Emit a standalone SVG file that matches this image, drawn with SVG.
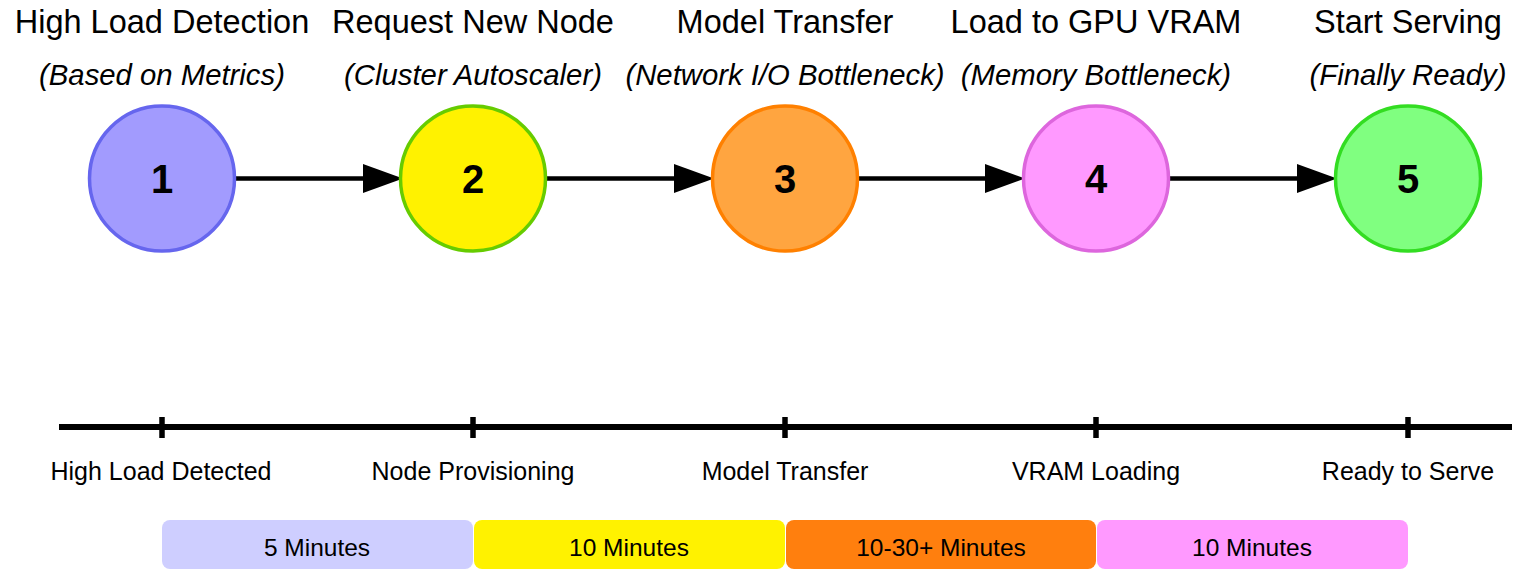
<svg xmlns="http://www.w3.org/2000/svg" width="1514" height="569" viewBox="0 0 1514 569">
<style>
text{font-family:"Liberation Sans",Arial,sans-serif;fill:#000;text-anchor:middle}
.title{font-size:32.5px}
.sub{font-size:29.3px;font-style:italic}
.num{font-size:40px;font-weight:bold}
.lbl{font-size:25px}
.bar{font-size:24.5px}
.circ{stroke-width:3.5}
.conn{stroke:#000;stroke-width:4.5;fill:none;marker-end:url(#arr)}
.axis{stroke:#000;stroke-width:6}
.tick{stroke:#000;stroke-width:5.5}
</style>
<defs>
<marker id="arr" markerUnits="userSpaceOnUse" markerWidth="42" markerHeight="30" refX="2" refY="14.5" orient="auto">
<path d="M0,0 L40,14.5 L0,29 Z" fill="#000"/>
</marker>
</defs>
<g id="connectors">
<line class="conn" x1="236" y1="178.5" x2="365" y2="178.5"/>
<line class="conn" x1="547" y1="178.5" x2="676" y2="178.5"/>
<line class="conn" x1="859" y1="178.5" x2="987" y2="178.5"/>
<line class="conn" x1="1170" y1="178.5" x2="1299" y2="178.5"/>
</g>
<g id="node1">
<text class="title" x="162" y="33">High Load Detection</text>
<text class="sub" x="162" y="85">(Based on Metrics)</text>
<circle class="circ" cx="162" cy="178.5" r="72.5" fill="#a29bfe" stroke="#6666ee"/>
<text class="num" x="162" y="193">1</text>
</g>
<g id="node2">
<text class="title" x="473" y="33">Request New Node</text>
<text class="sub" x="473" y="85">(Cluster Autoscaler)</text>
<circle class="circ" cx="473" cy="178.5" r="72.5" fill="#fff200" stroke="#66cc00"/>
<text class="num" x="473" y="193">2</text>
</g>
<g id="node3">
<text class="title" x="785" y="33">Model Transfer</text>
<text class="sub" x="785" y="85">(Network I/O Bottleneck)</text>
<circle class="circ" cx="785" cy="178.5" r="72.5" fill="#ffa540" stroke="#ff8000"/>
<text class="num" x="785" y="193">3</text>
</g>
<g id="node4">
<text class="title" x="1096" y="33">Load to GPU VRAM</text>
<text class="sub" x="1096" y="85">(Memory Bottleneck)</text>
<circle class="circ" cx="1096" cy="178.5" r="72.5" fill="#ff99ff" stroke="#dd66dd"/>
<text class="num" x="1096" y="193">4</text>
</g>
<g id="node5">
<text class="title" x="1408" y="33">Start Serving</text>
<text class="sub" x="1408" y="85">(Finally Ready)</text>
<circle class="circ" cx="1408" cy="178.5" r="72.5" fill="#80ff80" stroke="#33dd22"/>
<text class="num" x="1408" y="193">5</text>
</g>
<g id="timeline">
<line class="axis" x1="59" y1="427" x2="1512" y2="427"/>
<line class="tick" x1="162" y1="417" x2="162" y2="438"/>
<line class="tick" x1="473" y1="417" x2="473" y2="438"/>
<line class="tick" x1="785" y1="417" x2="785" y2="438"/>
<line class="tick" x1="1096" y1="417" x2="1096" y2="438"/>
<line class="tick" x1="1408" y1="417" x2="1408" y2="438"/>
<text class="lbl" x="161" y="480">High Load Detected</text>
<text class="lbl" x="473" y="480">Node Provisioning</text>
<text class="lbl" x="785" y="480">Model Transfer</text>
<text class="lbl" x="1096" y="480">VRAM Loading</text>
<text class="lbl" x="1408" y="480">Ready to Serve</text>
</g>
<g id="bars">
<rect x="162" y="520" width="311" height="49" rx="8" fill="#ceceff"/>
<rect x="474" y="520" width="311" height="49" rx="8" fill="#fff200"/>
<rect x="786" y="520" width="310" height="49" rx="8" fill="#ff7f0e"/>
<rect x="1097" y="520" width="311" height="49" rx="8" fill="#ff99ff"/>
<text class="bar" x="317" y="555.5">5 Minutes</text>
<text class="bar" x="629" y="555.5">10 Minutes</text>
<text class="bar" x="941" y="555.5">10-30+ Minutes</text>
<text class="bar" x="1252" y="555.5">10 Minutes</text>
</g>
</svg>
